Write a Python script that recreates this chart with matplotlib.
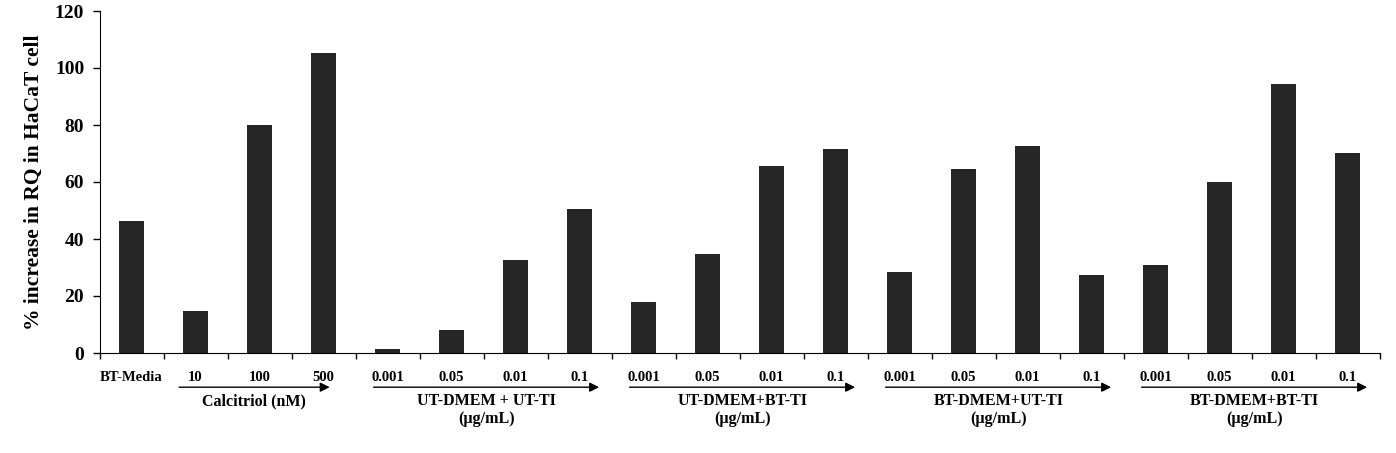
import matplotlib
matplotlib.use("Agg")
import matplotlib.pyplot as plt
import numpy as np

plt.rcParams['font.family'] = ['Liberation Serif', 'DejaVu Serif']
plt.rcParams['font.weight'] = 'bold'

tick_labels = ["BT-Media", "10", "100", "500",
               "0.001", "0.05", "0.01", "0.1",
               "0.001", "0.05", "0.01", "0.1",
               "0.001", "0.05", "0.01", "0.1",
               "0.001", "0.05", "0.01", "0.1"]
values = [46.4, 14.8, 80.0, 105.4,
          1.5, 8.2, 32.7, 50.6,
          18.0, 34.8, 65.7, 71.7,
          28.5, 64.7, 72.7, 27.5,
          31.0, 60.0, 94.5, 70.3]
group_names = ["Calcitriol (nM)", "UT-DMEM + UT-TI\n(\u00b5g/mL)", "UT-DMEM+BT-TI\n(\u00b5g/mL)",
               "BT-DMEM+UT-TI\n(\u00b5g/mL)", "BT-DMEM+BT-TI\n(\u00b5g/mL)"]
group_first = [1, 4, 8, 12, 16]
group_last = [3, 7, 11, 15, 19]

fig = plt.figure(figsize=(13.96, 4.53), dpi=100)
ax = fig.add_axes([99.5/1396, 100/453, 1280/1396, 342/453])

x = np.arange(len(values))
ax.bar(x, values, width=0.4, color='#262626')

ax.set_xlim(-0.5, len(values) - 0.5)
ax.set_ylim(0, 120)
ax.set_yticks(np.arange(0, 121, 20))
ax.tick_params(axis='y', direction='out', length=5, width=1, labelsize=14, pad=6)

ax.set_xticks(x)
ax.set_xticklabels(tick_labels, fontsize=10.5, fontweight='bold')
ax.tick_params(axis='x', which='major', length=0, pad=13)
ax.set_xticks(np.arange(-0.5, len(values), 1), minor=True)
ax.tick_params(axis='x', which='minor', direction='out', length=4, width=1)

for sp in ['top', 'right']:
    ax.spines[sp].set_visible(False)

ax.set_ylabel('% increase in RQ in HaCaT cell', fontsize=15.5, fontweight='bold', labelpad=8)

trans = ax.get_xaxis_transform()
for name, a, b in zip(group_names, group_first, group_last):
    if a == 1:
        x0, x1 = a - 0.3, b + 0.14
    else:
        x0, x1 = a - 0.26, b + 0.35
    ax.annotate('', xy=(x1, -0.1), xytext=(x0, -0.1), xycoords=trans, textcoords=trans,
                arrowprops=dict(arrowstyle='-|>', color='black', lw=1, mutation_scale=14),
                annotation_clip=False)
    ax.text((x0 + x1) / 2, -0.118, name, transform=trans, ha='center', va='top',
            fontsize=11.5, fontweight='bold', linespacing=1.15)

fig.savefig('out.png', dpi=100)
